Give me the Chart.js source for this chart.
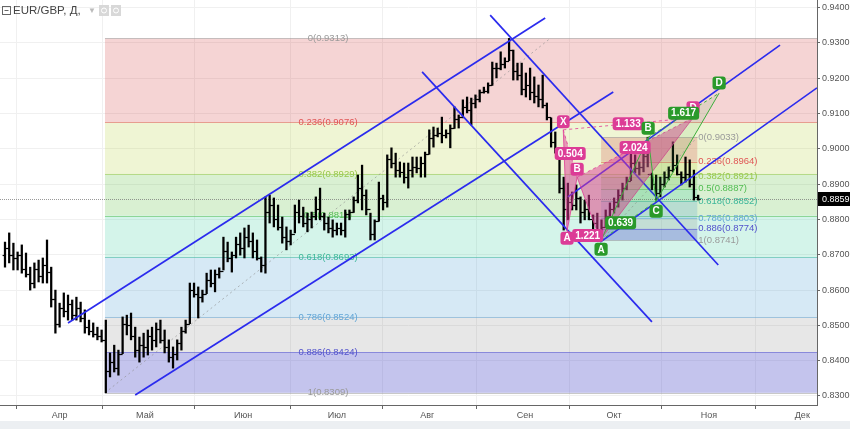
<!doctype html>
<html>
<head>
<meta charset="utf-8">
<title>EUR/GBP, Д</title>
<script src="https://cdn.jsdelivr.net/npm/chart.js@4.4.0/dist/chart.umd.min.js"></script>
<style>
  html, body { margin: 0; padding: 0; background: #fff; }
  #wrap { width: 850px; height: 429px; position: relative; }
</style>
</head>
<body>
<div id="wrap"><canvas id="chart" width="850" height="429"></canvas></div>
<script>
// daily bars, index 0 = first bar on the left
var high = [
  0.8736,0.8762,0.8733,0.8708,0.8728,0.8705,0.8665,0.8677,0.8685,0.8691,
  0.8742,0.8665,0.8600,0.8563,0.8592,0.8586,0.8572,0.8580,0.8566,0.8544,
  0.8515,0.8507,0.8495,0.8487,0.8515,0.8422,0.8444,0.8430,0.8524,0.8529,
  0.8535,0.8495,0.8467,0.8478,0.8487,0.8495,0.8507,0.8515,0.8487,0.8459,
  0.8439,0.8459,0.8495,0.8515,0.8620,0.8620,0.8609,0.8600,0.8648,0.8657,
  0.8657,0.8663,0.8750,0.8736,0.8708,0.8750,0.8762,0.8776,0.8784,0.8762,
  0.8742,0.8694,0.8864,0.8869,0.8861,0.8841,0.8807,0.8779,0.8770,0.8841,
  0.8855,0.8835,0.8818,0.8821,0.8864,0.8889,0.8818,0.8807,0.8799,0.8790,
  0.8790,0.8827,0.8827,0.8864,0.8926,0.8954,0.8884,0.8818,0.8799,0.8906,
  0.8869,0.8983,0.9003,0.8988,0.8963,0.8960,0.8960,0.8977,0.8977,0.8977,
  0.8991,0.9054,0.9062,0.9059,0.9090,0.9054,0.9068,0.9119,0.9096,0.9139,
  0.9147,0.9144,0.9153,0.9167,0.9175,0.9187,0.9246,0.9243,0.9275,0.9258,
  0.9313,0.9280,0.9243,0.9243,0.9215,0.9229,0.9204,0.9181,0.9209,0.9130,
  0.9088,0.9048,0.9000,0.8920,0.8903,0.8878,0.8898,0.8864,0.8855,0.8869,
  0.8813,0.8818,0.8799,0.8827,0.8847,0.8861,0.8884,0.8903,0.8920,0.8988,
  0.8983,0.8963,0.8991,0.9033,0.8932,0.8926,0.8920,0.8935,0.8949,0.9020,
  0.8983,0.8935,0.8977,0.8969,0.8940,0.8869
];
var low = [
  0.8665,0.8677,0.8657,0.8657,0.8648,0.8637,0.8600,0.8606,0.8623,0.8620,
  0.8620,0.8552,0.8478,0.8495,0.8524,0.8515,0.8515,0.8515,0.8510,0.8478,
  0.8473,0.8467,0.8459,0.8453,0.8309,0.8354,0.8368,0.8359,0.8420,0.8473,
  0.8459,0.8410,0.8396,0.8410,0.8416,0.8430,0.8439,0.8450,0.8422,0.8396,
  0.8379,0.8402,0.8430,0.8478,0.8505,0.8580,0.8521,0.8566,0.8590,0.8609,
  0.8595,0.8634,0.8657,0.8680,0.8651,0.8691,0.8699,0.8691,0.8722,0.8691,
  0.8685,0.8651,0.8648,0.8790,0.8779,0.8770,0.8733,0.8714,0.8728,0.8762,
  0.8790,0.8779,0.8765,0.8776,0.8799,0.8799,0.8770,0.8762,0.8750,0.8756,
  0.8756,0.8750,0.8799,0.8820,0.8847,0.8827,0.8813,0.8742,0.8742,0.8795,
  0.8827,0.8835,0.8946,0.8920,0.8920,0.8903,0.8889,0.8920,0.8932,0.8920,
  0.8920,0.8985,0.9005,0.9034,0.9017,0.9031,0.9003,0.9058,0.9059,0.9088,
  0.9102,0.9068,0.9116,0.9133,0.9158,0.9158,0.9180,0.9201,0.9224,0.9229,
  0.9250,0.9195,0.9195,0.9153,0.9147,0.9139,0.9130,0.9119,0.9116,0.9082,
  0.9005,0.8988,0.8875,0.8770,0.8799,0.8827,0.8827,0.8790,0.8799,0.8799,
  0.8770,0.8741,0.8750,0.8779,0.8790,0.8818,0.8835,0.8855,0.8884,0.8910,
  0.8932,0.8926,0.8935,0.8949,0.8884,0.8855,0.8864,0.8892,0.8912,0.8935,
  0.8926,0.8898,0.8906,0.8892,0.8855,0.8855
];
var open = [
  0.8700,0.8720,0.8700,0.8690,0.8700,0.8660,0.8645,0.8620,0.8660,0.8640,
  0.8670,0.8650,0.8575,0.8505,0.8550,0.8540,0.8560,0.8530,0.8550,0.8520,
  0.8495,0.8485,0.8475,0.8470,0.8460,0.8370,0.8395,0.8380,0.8420,0.8505,
  0.8500,0.8470,0.8430,0.8445,0.8440,0.8470,0.8460,0.8490,0.8460,0.8440,
  0.8410,0.8420,0.8450,0.8485,0.8505,0.8600,0.8590,0.8580,0.8590,0.8630,
  0.8620,0.8645,0.8655,0.8710,0.8690,0.8700,0.8730,0.8720,0.8750,0.8740,
  0.8710,0.8690,0.8670,0.8820,0.8840,0.8800,0.8780,0.8750,0.8740,0.8760,
  0.8820,0.8810,0.8790,0.8800,0.8810,0.8830,0.8810,0.8790,0.8775,0.8770,
  0.8775,0.8770,0.8815,0.8820,0.8855,0.8890,0.8870,0.8830,0.8760,0.8795,
  0.8860,0.8850,0.8970,0.8960,0.8940,0.8935,0.8920,0.8940,0.8950,0.8945,
  0.8960,0.8985,0.9030,0.9040,0.9045,0.9040,0.9045,0.9060,0.9085,0.9090,
  0.9120,0.9110,0.9130,0.9140,0.9160,0.9165,0.9180,0.9230,0.9230,0.9240,
  0.9250,0.9280,0.9220,0.9210,0.9170,0.9180,0.9160,0.9150,0.9140,0.9125,
  0.9090,0.9020,0.9000,0.8890,0.8830,0.8850,0.8840,0.8860,0.8820,0.8830,
  0.8800,0.8790,0.8770,0.8780,0.8810,0.8830,0.8850,0.8870,0.8890,0.8910,
  0.8960,0.8945,0.8950,0.8980,0.8930,0.8900,0.8875,0.8900,0.8920,0.8940,
  0.8955,0.8930,0.8920,0.8930,0.8900,0.8865
];
var close = [
  0.8720,0.8700,0.8690,0.8700,0.8660,0.8645,0.8620,0.8660,0.8640,0.8670,
  0.8650,0.8575,0.8505,0.8550,0.8540,0.8560,0.8530,0.8550,0.8520,0.8495,
  0.8485,0.8475,0.8470,0.8460,0.8370,0.8395,0.8380,0.8420,0.8505,0.8500,
  0.8470,0.8430,0.8445,0.8440,0.8470,0.8460,0.8490,0.8460,0.8440,0.8410,
  0.8420,0.8450,0.8485,0.8505,0.8600,0.8590,0.8580,0.8590,0.8630,0.8620,
  0.8645,0.8655,0.8710,0.8690,0.8700,0.8730,0.8720,0.8750,0.8740,0.8710,
  0.8690,0.8670,0.8820,0.8840,0.8800,0.8780,0.8750,0.8740,0.8760,0.8820,
  0.8810,0.8790,0.8800,0.8810,0.8830,0.8810,0.8790,0.8775,0.8770,0.8775,
  0.8770,0.8815,0.8820,0.8855,0.8890,0.8870,0.8830,0.8760,0.8795,0.8860,
  0.8850,0.8970,0.8960,0.8940,0.8935,0.8920,0.8940,0.8950,0.8945,0.8960,
  0.8985,0.9030,0.9040,0.9045,0.9040,0.9045,0.9060,0.9085,0.9090,0.9120,
  0.9110,0.9130,0.9140,0.9160,0.9165,0.9180,0.9230,0.9230,0.9240,0.9250,
  0.9280,0.9220,0.9210,0.9170,0.9180,0.9160,0.9150,0.9140,0.9125,0.9090,
  0.9020,0.9000,0.8890,0.8830,0.8850,0.8840,0.8860,0.8820,0.8830,0.8800,
  0.8790,0.8770,0.8780,0.8810,0.8830,0.8850,0.8870,0.8890,0.8910,0.8960,
  0.8945,0.8950,0.8980,0.8930,0.8900,0.8875,0.8900,0.8920,0.8940,0.8955,
  0.8930,0.8920,0.8930,0.8900,0.8865,0.8859
];

var monthPos = [13.0, 33.3, 56.7, 79.0, 100.5, 123.8, 145.0, 167.6, 189.8];
var monthNames = ['Апр', 'Май', 'Июн', 'Июл', 'Авг', 'Сен', 'Окт', 'Ноя', 'Дек'];
var priceTicks = [0.83, 0.84, 0.85, 0.86, 0.87, 0.88, 0.89, 0.90, 0.91, 0.92, 0.93, 0.94];
var lastPrice = 0.8859;

// fibonacci retracements (ratio -> price as printed on the chart)
var fibRatios = ['0', '0.236', '0.382', '0.5', '0.618', '0.786', '0.886', '1'];
var mainFib = [0.9313, 0.9076, 0.8929, 0.8811, 0.8693, 0.8524, 0.8424, 0.8309];
var smallFib = [0.9033, 0.8964, 0.8921, 0.8887, 0.8852, 0.8803, 0.8774, 0.8741];
var mainFibSpan = [23.8, 129.8];   // bar index of both anchors
var smallFibSpan = [141.9, 164.8];

// trend lines: [index1, price1, index2, price2]
var channels = [
  [15.0, 0.8507, 128.6, 0.9371],
  [31.0, 0.8303, 144.8, 0.9161],
  [115.5, 0.9379, 169.8, 0.8671],
  [99.3, 0.9218, 154.0, 0.8510],
  [134.0, 0.8864, 184.5, 0.9294],
  [141.7, 0.8736, 193.3, 0.9173]
];

// harmonic patterns
var pinkNames = ['X', 'A', 'B', 'C', 'D'];
var pinkIdx = [132.9, 133.8, 136.2, 141.7, 163.8];
var pinkPrice = [0.9054, 0.8767, 0.8920, 0.8742, 0.9088];
var pinkRatios = ['0.504', '1.221', '2.024', '1.133'];
var greenNames = ['A', 'B', 'C', 'D'];
var greenIdx = [141.9, 153.1, 155.0, 170.0];
var greenPrice = [0.8741, 0.9033, 0.8852, 0.9158];
var greenRatios = ['0.639', '1.617'];

var lvlColors = ['#9a9a9a', '#e05656', '#98c84a', '#52bd52', '#3db79a', '#62a6d6', '#5252cc', '#9a9a9a'];
var bandColors = ['rgba(210,60,60,0.22)', 'rgba(180,210,60,0.22)', 'rgba(90,190,60,0.23)',
                  'rgba(40,200,150,0.2)', 'rgba(60,150,210,0.21)', 'rgba(120,120,120,0.18)',
                  'rgba(70,70,200,0.32)'];

Chart.defaults.font.family = '"Liberation Sans", Arial, sans-serif';

var bars = [];
for (var i = 0; i < high.length; i++) {
  bars.push({x: i, y: [low[i], high[i]]});
}

function line(ctx, x1, y1, x2, y2) {
  ctx.beginPath();
  ctx.moveTo(x1, y1);
  ctx.lineTo(x2, y2);
  ctx.stroke();
}

function tag(ctx, text, x, y, bg) {
  ctx.font = 'bold 10px "Liberation Sans", Arial, sans-serif';
  var w = ctx.measureText(text).width + 6, h = 13;
  ctx.fillStyle = bg;
  ctx.beginPath();
  ctx.roundRect(x - w / 2, y - h / 2, w, h, 3);
  ctx.fill();
  ctx.fillStyle = '#fff';
  ctx.textAlign = 'center';
  ctx.textBaseline = 'middle';
  ctx.fillText(text, x, y + 0.5);
}

function drawFib(chart, levels, x1, x2, labelX, align, size) {
  var ctx = chart.ctx, sy = chart.scales.y;
  for (var k = 0; k < levels.length - 1; k++) {
    var ya = sy.getPixelForValue(levels[k]), yb = sy.getPixelForValue(levels[k + 1]);
    ctx.fillStyle = bandColors[k];
    ctx.fillRect(x1, ya, x2 - x1, yb - ya);
  }
  ctx.lineWidth = 1;
  for (var k = 0; k < levels.length; k++) {
    var y = Math.round(sy.getPixelForValue(levels[k])) + 0.5;
    ctx.strokeStyle = lvlColors[k];
    ctx.globalAlpha = 0.55;
    line(ctx, x1, y, x2, y);
    ctx.globalAlpha = 1;
  }
  ctx.font = size + 'px "Liberation Sans", Arial, sans-serif';
  ctx.textAlign = align;
  ctx.textBaseline = 'middle';
  for (var k = 0; k < levels.length; k++) {
    ctx.fillStyle = lvlColors[k];
    ctx.fillText(fibRatios[k] + '(' + levels[k].toFixed(4) + ')', labelX, sy.getPixelForValue(levels[k]));
  }
}

var backPlugin = {
  id: 'back',
  beforeDraw: function(chart) {
    var ctx = chart.ctx;
    ctx.save();
    ctx.fillStyle = '#fff';
    ctx.fillRect(0, 0, chart.width, chart.height);
    ctx.fillStyle = '#eceff2';
    ctx.fillRect(0, 421, chart.width, chart.height - 421);
    ctx.restore();
  },
  beforeDatasetsDraw: function(chart) {
    var ctx = chart.ctx, a = chart.chartArea, sx = chart.scales.x, sy = chart.scales.y;
    ctx.save();
    ctx.beginPath();
    ctx.rect(a.left, a.top, a.right - a.left, a.bottom - a.top);
    ctx.clip();
    drawFib(chart, mainFib, sx.getPixelForValue(mainFibSpan[0]), a.right, sx.getPixelForValue(76.9), 'center', 9.5);
    drawFib(chart, smallFib, sx.getPixelForValue(smallFibSpan[0]), sx.getPixelForValue(smallFibSpan[1]),
            sx.getPixelForValue(smallFibSpan[1]) + 1, 'left', 9.5);
    // fib diagonals
    ctx.strokeStyle = 'rgba(140,140,140,0.6)';
    ctx.setLineDash([2, 3]);
    line(ctx, sx.getPixelForValue(mainFibSpan[0]), sy.getPixelForValue(mainFib[7]),
         sx.getPixelForValue(mainFibSpan[1]), sy.getPixelForValue(mainFib[0]));
    line(ctx, sx.getPixelForValue(smallFibSpan[0]), sy.getPixelForValue(smallFib[7]),
         sx.getPixelForValue(smallFibSpan[1]), sy.getPixelForValue(smallFib[0]));
    // last price line
    var yl = Math.round(sy.getPixelForValue(lastPrice)) + 0.5;
    ctx.strokeStyle = 'rgba(110,110,110,0.7)';
    ctx.setLineDash([1, 1]);
    line(ctx, a.left, yl, a.right, yl);
    ctx.restore();
  },
  afterDatasetsDraw: function(chart) {
    var ctx = chart.ctx, a = chart.chartArea, sx = chart.scales.x, sy = chart.scales.y;
    ctx.save();
    ctx.beginPath();
    ctx.rect(a.left, a.top, a.right - a.left, a.bottom - a.top);
    ctx.clip();
    // open / close ticks
    ctx.strokeStyle = '#000';
    ctx.lineWidth = 1.2;
    for (var i = 0; i < open.length; i++) {
      var x = sx.getPixelForValue(i);
      var yo = Math.round(sy.getPixelForValue(open[i])) + 0.5;
      var yc = Math.round(sy.getPixelForValue(close[i])) + 0.5;
      line(ctx, x - 2.4, yo, x, yo);
      line(ctx, x, yc, x + 2.4, yc);
    }
    // channels
    ctx.strokeStyle = '#2b2bee';
    ctx.lineWidth = 1.7;
    channels.forEach(function(c) {
      line(ctx, sx.getPixelForValue(c[0]), sy.getPixelForValue(c[1]),
           sx.getPixelForValue(c[2]), sy.getPixelForValue(c[3]));
    });
    // pink XABCD
    var P = pinkIdx.map(function(v, k) { return [sx.getPixelForValue(v), sy.getPixelForValue(pinkPrice[k])]; });
    ctx.fillStyle = 'rgba(222,60,150,0.5)';
    [[0, 1, 2], [2, 3, 4]].forEach(function(t) {
      ctx.beginPath();
      ctx.moveTo(P[t[0]][0], P[t[0]][1]);
      ctx.lineTo(P[t[1]][0], P[t[1]][1]);
      ctx.lineTo(P[t[2]][0], P[t[2]][1]);
      ctx.closePath();
      ctx.fill();
    });
    ctx.strokeStyle = 'rgba(222,60,150,0.8)';
    ctx.lineWidth = 1;
    for (var k = 0; k < 4; k++) line(ctx, P[k][0], P[k][1], P[k + 1][0], P[k + 1][1]);
    ctx.setLineDash([3, 3]);
    var pinkDash = [[0, 2], [1, 3], [2, 4], [0, 4]];
    pinkDash.forEach(function(d) { line(ctx, P[d[0]][0], P[d[0]][1], P[d[1]][0], P[d[1]][1]); });
    ctx.setLineDash([]);
    // green ABCD
    var G = greenIdx.map(function(v, k) { return [sx.getPixelForValue(v), sy.getPixelForValue(greenPrice[k])]; });
    ctx.fillStyle = 'rgba(70,180,70,0.12)';
    [[0, 1, 2], [1, 2, 3]].forEach(function(t) {
      ctx.beginPath();
      ctx.moveTo(G[t[0]][0], G[t[0]][1]);
      ctx.lineTo(G[t[1]][0], G[t[1]][1]);
      ctx.lineTo(G[t[2]][0], G[t[2]][1]);
      ctx.closePath();
      ctx.fill();
    });
    ctx.strokeStyle = '#3cae3c';
    for (var k = 0; k < 3; k++) line(ctx, G[k][0], G[k][1], G[k + 1][0], G[k + 1][1]);
    ctx.setLineDash([3, 3]);
    line(ctx, G[0][0], G[0][1], G[2][0], G[2][1]);
    line(ctx, G[1][0], G[1][1], G[3][0], G[3][1]);
    ctx.setLineDash([]);
    ctx.restore();

    // labels (not clipped)
    ctx.save();
    var pink = '#dc3c96', green = '#2a9a2a';
    var pinkOff = [-8, 7, -8, 8, -10];
    pinkDash.forEach(function(d, k) {
      tag(ctx, pinkRatios[k], (P[d[0]][0] + P[d[1]][0]) / 2 + (k == 1 ? 4 : 0), (P[d[0]][1] + P[d[1]][1]) / 2, pink);
    });
    for (var k = 0; k < 5; k++) {
      if (k == 3) continue;
      tag(ctx, pinkNames[k], P[k][0], P[k][1] + pinkOff[k], pink);
    }
    tag(ctx, greenRatios[0], (G[0][0] + G[2][0]) / 2 - 8, (G[0][1] + G[2][1]) / 2 + 2, green);
    tag(ctx, greenRatios[1], (G[1][0] + G[3][0]) / 2, (G[1][1] + G[3][1]) / 2 - 2, green);
    var greenOff = [9, -9, 10, -10];
    for (var k = 0; k < 4; k++) tag(ctx, greenNames[k], G[k][0], G[k][1] + greenOff[k], green);
    ctx.restore();
  },
  afterDraw: function(chart) {
    var ctx = chart.ctx, a = chart.chartArea, sy = chart.scales.y;
    ctx.save();
    // last price box
    var y = Math.round(sy.getPixelForValue(lastPrice));
    ctx.fillStyle = '#000';
    ctx.fillRect(a.right + 1, y - 7, chart.width - a.right - 1, 14);
    ctx.fillStyle = '#fff';
    ctx.font = '9px "Liberation Sans", Arial, sans-serif';
    ctx.textAlign = 'left';
    ctx.textBaseline = 'middle';
    ctx.fillText(lastPrice.toFixed(4), a.right + 5, y + 0.5);
    // title
    ctx.strokeStyle = '#666';
    ctx.lineWidth = 1;
    ctx.strokeRect(2.5, 6.5, 8, 8);
    line(ctx, 4.5, 10.5, 8.5, 10.5);
    ctx.fillStyle = '#444';
    ctx.font = '11.5px "Liberation Sans", Arial, sans-serif';
    ctx.fillText('EUR/GBP, Д,', 13, 11);
    ctx.fillStyle = '#bbb';
    ctx.font = '8px "Liberation Sans", Arial, sans-serif';
    ctx.fillText('▼', 88, 11);
    ctx.fillStyle = '#d8d8d8';
    ctx.fillRect(99, 5, 10, 11);
    ctx.fillRect(111, 5, 10, 11);
    ctx.strokeStyle = '#fff';
    ctx.beginPath(); ctx.arc(104, 10.5, 2.5, 0, Math.PI * 2); ctx.stroke();
    ctx.beginPath(); ctx.arc(116, 10.5, 2.5, 0, Math.PI * 2); ctx.stroke();
    ctx.restore();
  }
};

var ctx = document.getElementById('chart').getContext('2d');
var chart = new Chart(ctx, {
  type: 'bar',
  data: {
    datasets: [{
      data: bars,
      backgroundColor: '#000',
      borderWidth: 0,
      barThickness: 1.6,
      grouped: false
    }]
  },
  options: {
    responsive: false,
    animation: false,
    devicePixelRatio: 1,
    layout: { padding: 0 },
    plugins: { legend: { display: false }, tooltip: { enabled: false } },
    scales: {
      x: {
        type: 'linear',
        min: -1.19,
        max: 193.3,
        offset: false,
        grid: { color: '#f0f0f0', tickColor: '#666', tickLength: 4 },
        border: { color: '#666' },
        afterBuildTicks: function(s) { s.ticks = monthPos.map(function(v) { return {value: v}; }); },
        afterFit: function(s) { s.height = 24; s.paddingLeft = 0; s.paddingRight = 0; },
        ticks: {
          autoSkip: false, maxRotation: 0, padding: 1,
          color: '#555', font: { size: 9 },
          callback: function(v, idx) { return monthNames[idx]; }
        }
      },
      y: {
        position: 'right',
        min: 0.82745,
        max: 0.94218,
        grid: { color: '#f0f0f0', tickColor: '#666', tickLength: 3 },
        border: { color: '#666' },
        afterBuildTicks: function(s) { s.ticks = priceTicks.map(function(v) { return {value: v}; }); },
        afterFit: function(s) { s.width = 33; s.paddingTop = 0; s.paddingBottom = 0; },
        ticks: {
          padding: 2, color: '#555', font: { size: 9 },
          callback: function(v) { return v.toFixed(4); }
        }
      }
    }
  },
  plugins: [backPlugin]
});
</script>
</body>
</html>
